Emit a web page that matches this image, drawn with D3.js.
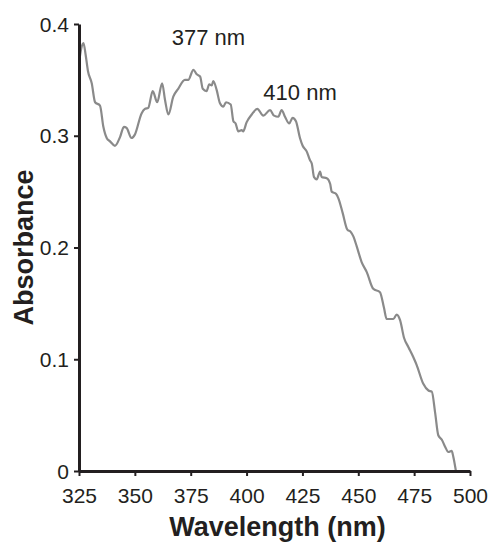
<!DOCTYPE html>
<html>
<head>
<meta charset="utf-8">
<script src="https://cdn.jsdelivr.net/npm/d3@7"></script>
<style>
  html, body { margin: 0; padding: 0; background: #fff; }
  svg text { font-family: "Liberation Sans", Arial, sans-serif; fill: #231f20; }
</style>
</head>
<body>
<svg id="chart" width="489" height="542"></svg>
<script>
// ---- data ----
const wavelength = [325, 326, 327, 328, 329, 330.7, 332.2, 334.4, 335.9, 337.4, 338.9, 341.1, 343.4, 345.1, 346.3, 348.5, 350, 353, 354.5, 356, 358, 360, 362.2, 363.5, 365, 367.2, 369.4, 372.4, 373.9, 376.2, 377.7, 379.2, 380.4, 382.1, 383.3, 384.4, 385.1, 386.6, 388.1, 389.6, 390.8, 392.9, 394.1, 395.1, 396.3, 397.8, 398.5, 400, 402.3, 404.8, 407.5, 410.5, 412.3, 414.2, 415.7, 417.2, 419.1, 420.6, 422.1, 423.9, 425.1, 426.9, 428.4, 429.2, 430.2, 431.4, 432.9, 433.6, 435.9, 437.4, 438.1, 440.0, 441.1, 443.0, 445.1, 446.6, 447.8, 449.3, 451.5, 453.8, 456.7, 459.7, 461.5, 462.7, 465.7, 467.2, 468.7, 470.5, 472.4, 474.6, 476.1, 479.1, 481.4, 482.9, 484.4, 485.8, 487.4, 488.8, 490.3, 491.8, 492.5, 493.7];
const absorbance = [0.365, 0.378, 0.383, 0.372, 0.358, 0.347, 0.330, 0.327, 0.308, 0.298, 0.295, 0.291, 0.299, 0.308, 0.307, 0.298, 0.301, 0.320, 0.324, 0.325, 0.340, 0.330, 0.347, 0.332, 0.319, 0.335, 0.342, 0.350, 0.350, 0.359, 0.355, 0.353, 0.342, 0.340, 0.346, 0.345, 0.349, 0.341, 0.329, 0.326, 0.330, 0.328, 0.313, 0.311, 0.304, 0.305, 0.304, 0.312, 0.319, 0.324, 0.318, 0.323, 0.318, 0.317, 0.323, 0.317, 0.311, 0.316, 0.313, 0.298, 0.291, 0.286, 0.278, 0.275, 0.263, 0.261, 0.268, 0.263, 0.262, 0.257, 0.250, 0.248, 0.244, 0.231, 0.216, 0.214, 0.210, 0.201, 0.187, 0.178, 0.163, 0.160, 0.146, 0.136, 0.136, 0.140, 0.135, 0.119, 0.111, 0.102, 0.095, 0.078, 0.072, 0.071, 0.052, 0.032, 0.028, 0.022, 0.017, 0.018, 0.013, 0.000];
const xTicks = [325, 350, 375, 400, 425, 450, 475, 500];
const yTicks = [0, 0.1, 0.2, 0.3, 0.4];
const yTickLabels = ["0", "0.1", "0.2", "0.3", "0.4"];
const peakLabels = ["377 nm", "410 nm"];
const peakLabelX = [366.5, 407.5];
const peakLabelY = [0.381, 0.332];
const xTitle = "Wavelength (nm)";
const yTitle = "Absorbance";

// ---- layout ----
const W = 489, H = 542;
const margin = { top: 24, right: 19, bottom: 71, left: 79 };
const svg = d3.select("#chart");

const x = d3.scaleLinear().domain([325, 500]).range([margin.left, W - margin.right]);
const y = d3.scaleLinear().domain([0, 0.4]).range([H - margin.bottom, margin.top]);

// line
const pts = wavelength.map((w, i) => [w, absorbance[i]]);
svg.append("path")
  .datum(pts)
  .attr("fill", "none")
  .attr("stroke", "#8a8a8a")
  .attr("stroke-width", 2.2)
  .attr("stroke-linejoin", "round")
  .attr("d", d3.line().x(d => x(d[0])).y(d => y(d[1])).curve(d3.curveMonotoneX));

// x axis
const xAxis = svg.append("g")
  .attr("transform", `translate(0,${y(0)})`)
  .call(d3.axisBottom(x).tickValues(xTicks).tickFormat(d3.format("d")).tickSize(5).tickSizeOuter(0).tickPadding(4));
// y axis
const yAxis = svg.append("g")
  .attr("transform", `translate(${x(325)},0)`)
  .call(d3.axisLeft(y).tickValues(yTicks).tickFormat((d, i) => yTickLabels[i]).tickSize(5).tickSizeOuter(0).tickPadding(5));

[xAxis, yAxis].forEach(g => {
  g.select(".domain").attr("stroke", "#231f20").attr("stroke-width", 3);
  g.selectAll(".tick line").attr("stroke", "#231f20").attr("stroke-width", 2);
  g.selectAll(".tick text").attr("font-size", 21).attr("fill", "#231f20")
    .style("font-family", '"Liberation Sans", Arial, sans-serif');
});
xAxis.selectAll(".tick text").attr("dy", "1.08em");
yAxis.selectAll(".tick text").attr("dy", "0.34em");

// peak annotations
svg.selectAll("text.peak")
  .data(peakLabels)
  .enter().append("text")
  .attr("class", "peak")
  .attr("x", (d, i) => x(peakLabelX[i]))
  .attr("y", (d, i) => y(peakLabelY[i]))
  .attr("font-size", 22)
  .text(d => d);

// titles
svg.append("text")
  .attr("x", (x(325) + x(500)) / 2 + 3)
  .attr("y", 536)
  .attr("text-anchor", "middle")
  .attr("font-size", 27)
  .attr("font-weight", "bold")
  .text(xTitle);

svg.append("text")
  .attr("transform", `translate(33,${(y(0) + y(0.4)) / 2}) rotate(-90)`)
  .attr("text-anchor", "middle")
  .attr("font-size", 27)
  .attr("font-weight", "bold")
  .text(yTitle);
</script>
</body>
</html>
